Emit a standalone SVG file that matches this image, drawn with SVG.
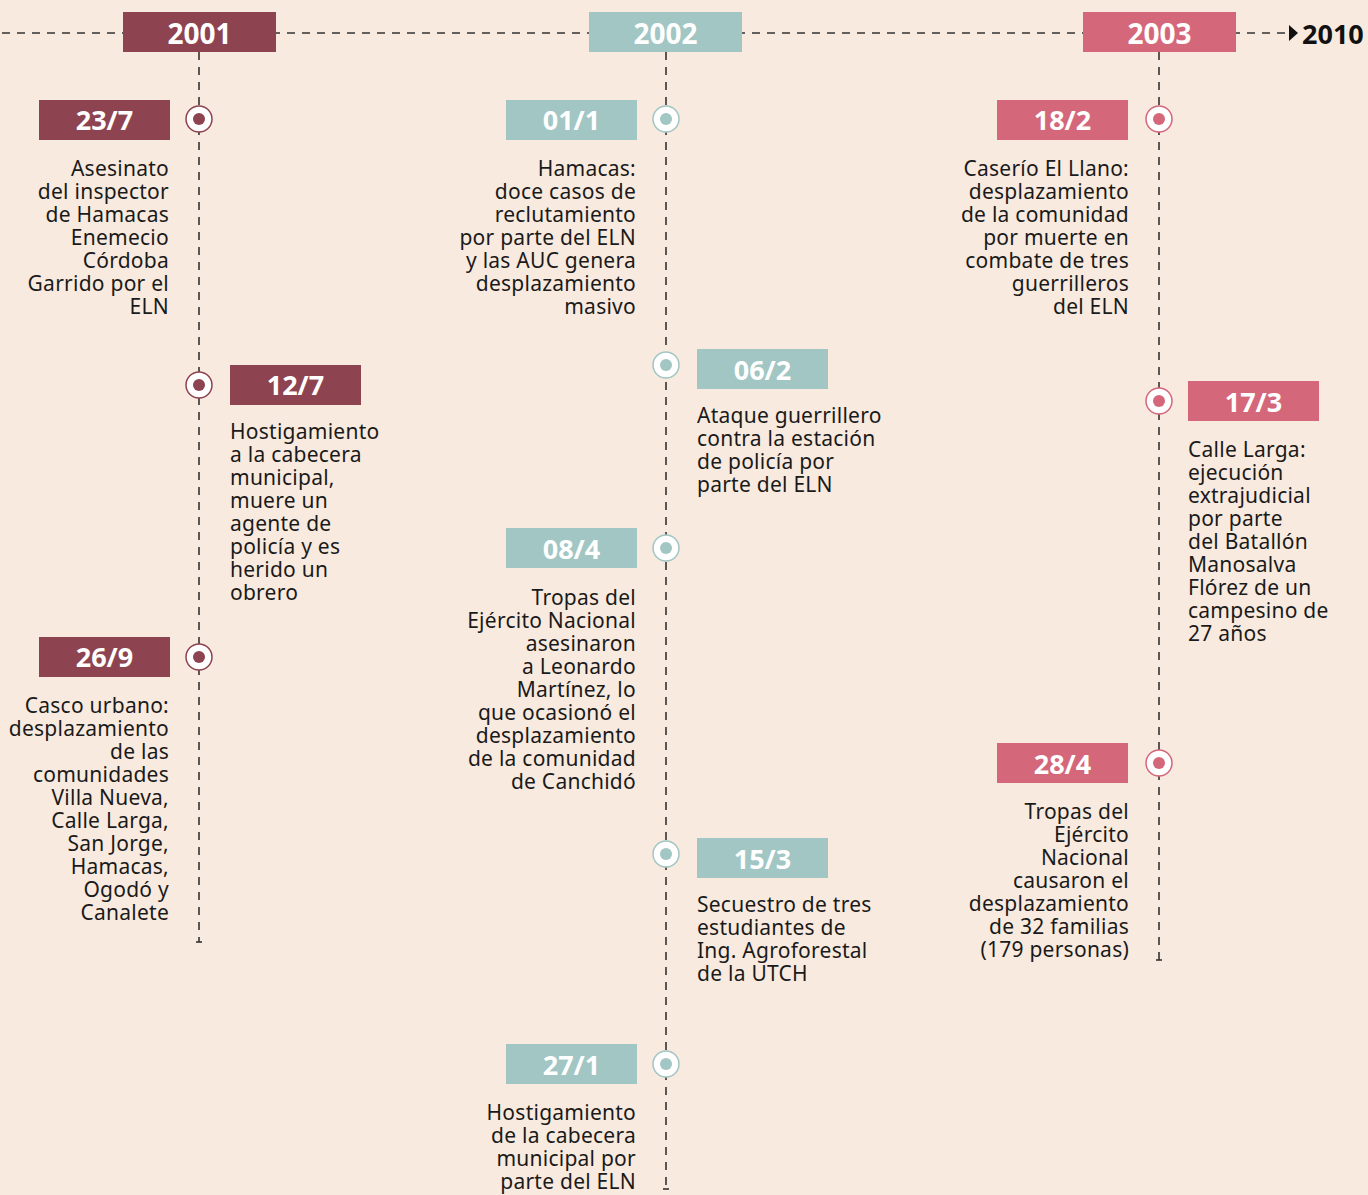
<svg xmlns="http://www.w3.org/2000/svg" width="1368" height="1195" viewBox="0 0 1368 1195">
  <defs>
    <style>
      .axis { stroke: #333; stroke-width: 1.6; stroke-dasharray: 8 7; fill: none; }
      .stem { stroke: #333; stroke-width: 1.6; stroke-dasharray: 8 7; fill: none; }
      .cap { stroke: #333; stroke-width: 1.6; }
      .year { font-family: "Noto Sans", "Open Sans", sans-serif; font-weight: 700; font-size: 28px; fill: #fff; text-anchor: middle; }
      .date { font-family: "Noto Sans", "Open Sans", sans-serif; font-weight: 700; font-size: 27px; fill: #fff; text-anchor: middle; }
      .desc { font-family: "Noto Sans", "Open Sans", sans-serif; font-size: 21px; letter-spacing: 0.25px; fill: #1a1a1a; }
      .r { text-anchor: end; }
      .l { text-anchor: start; }
      .c1 { fill: #8E4350; }
      .c2 { fill: #A1C6C3; }
      .c3 { fill: #D5677B; }
      .m1 { fill: #fff; stroke: #8E4350; stroke-width: 1.5; }
      .m2 { fill: #fff; stroke: #A1C6C3; stroke-width: 1.5; }
      .m3 { fill: #fff; stroke: #D5677B; stroke-width: 1.5; }
    </style>
  </defs>

  <rect width="1368" height="1195" fill="#F9EADF"/>

  <!-- timeline axis and column stems -->
  <g id="connectors">
    <line class="axis" x1="2" y1="33" x2="1290" y2="33"/>
    <polygon points="1289,25 1298,33 1289,41" fill="#111"/>
    <line class="stem" x1="199" y1="52" x2="199" y2="942"/>
    <line class="cap" x1="196" y1="942" x2="202" y2="942"/>
    <line class="stem" x1="666" y1="52" x2="666" y2="1189"/>
    <line class="cap" x1="663" y1="1189" x2="669" y2="1189"/>
    <line class="stem" x1="1159" y1="52" x2="1159" y2="960"/>
    <line class="cap" x1="1156" y1="960" x2="1162" y2="960"/>
  </g>

  <text x="1302" y="44" font-family="Noto Sans, Open Sans, sans-serif" font-weight="700" font-size="27" fill="#111">2010</text>

  <!-- year headers -->
  <g id="year-2001">
    <rect class="c1" x="123" y="12" width="153" height="40"/>
    <text class="year" x="199.5" y="44">2001</text>
  </g>
  <g id="year-2002">
    <rect class="c2" x="589" y="12" width="153" height="40"/>
    <text class="year" x="665.5" y="44">2002</text>
  </g>
  <g id="year-2003">
    <rect class="c3" x="1083" y="12" width="153" height="40"/>
    <text class="year" x="1159.5" y="44">2003</text>
  </g>

  <!-- 2001 events -->
  <g id="ev-2001-23-7">
    <rect class="c1" x="39" y="100" width="131" height="40"/>
    <text class="date" x="104.5" y="130">23/7</text>
    <circle class="m1" cx="199" cy="119" r="13"/>
    <circle class="c1" cx="199" cy="119" r="6"/>
    <text class="desc r" y="176"><tspan x="169">Asesinato</tspan><tspan x="169" dy="23">del inspector</tspan><tspan x="169" dy="23">de Hamacas</tspan><tspan x="169" dy="22.5">Enemecio</tspan><tspan x="169" dy="23">Córdoba</tspan><tspan x="169" dy="23">Garrido por el</tspan><tspan x="169" dy="23">ELN</tspan></text>
  </g>
  <g id="ev-2001-12-7">
    <rect class="c1" x="230" y="365" width="131" height="40"/>
    <text class="date" x="295.5" y="395">12/7</text>
    <circle class="m1" cx="199" cy="385" r="13"/>
    <circle class="c1" cx="199" cy="385" r="6"/>
    <text class="desc l" y="439"><tspan x="230">Hostigamiento</tspan><tspan x="230" dy="23">a la cabecera</tspan><tspan x="230" dy="23">municipal,</tspan><tspan x="230" dy="23">muere un</tspan><tspan x="230" dy="23">agente de</tspan><tspan x="230" dy="23">policía y es</tspan><tspan x="230" dy="23">herido un</tspan><tspan x="230" dy="23">obrero</tspan></text>
  </g>
  <g id="ev-2001-26-9">
    <rect class="c1" x="39" y="637" width="131" height="40"/>
    <text class="date" x="104.5" y="667">26/9</text>
    <circle class="m1" cx="199" cy="657" r="13"/>
    <circle class="c1" cx="199" cy="657" r="6"/>
    <text class="desc r" y="713"><tspan x="169">Casco urbano:</tspan><tspan x="169" dy="23">desplazamiento</tspan><tspan x="169" dy="23">de las</tspan><tspan x="169" dy="23">comunidades</tspan><tspan x="169" dy="23">Villa Nueva,</tspan><tspan x="169" dy="23">Calle Larga,</tspan><tspan x="169" dy="23">San Jorge,</tspan><tspan x="169" dy="23">Hamacas,</tspan><tspan x="169" dy="23">Ogodó y</tspan><tspan x="169" dy="23">Canalete</tspan></text>
  </g>

  <!-- 2002 events -->
  <g id="ev-2002-01-1">
    <rect class="c2" x="506" y="100" width="131" height="40"/>
    <text class="date" x="571.5" y="130">01/1</text>
    <circle class="m2" cx="666" cy="119" r="13"/>
    <circle class="c2" cx="666" cy="119" r="6"/>
    <text class="desc r" y="176"><tspan x="636">Hamacas:</tspan><tspan x="636" dy="23">doce casos de</tspan><tspan x="636" dy="23">reclutamiento</tspan><tspan x="636" dy="22.5">por parte del ELN</tspan><tspan x="636" dy="23">y las AUC genera</tspan><tspan x="636" dy="23">desplazamiento</tspan><tspan x="636" dy="23">masivo</tspan></text>
  </g>
  <g id="ev-2002-06-2">
    <rect class="c2" x="697" y="349" width="131" height="40"/>
    <text class="date" x="762.5" y="380">06/2</text>
    <circle class="m2" cx="666" cy="365" r="13"/>
    <circle class="c2" cx="666" cy="365" r="6"/>
    <text class="desc l" y="423"><tspan x="697">Ataque guerrillero</tspan><tspan x="697" dy="23">contra la estación</tspan><tspan x="697" dy="23">de policía por</tspan><tspan x="697" dy="23">parte del ELN</tspan></text>
  </g>
  <g id="ev-2002-08-4">
    <rect class="c2" x="506" y="528" width="131" height="40"/>
    <text class="date" x="571.5" y="559">08/4</text>
    <circle class="m2" cx="666" cy="548" r="13"/>
    <circle class="c2" cx="666" cy="548" r="6"/>
    <text class="desc r" y="605"><tspan x="636">Tropas del</tspan><tspan x="636" dy="23">Ejército Nacional</tspan><tspan x="636" dy="22.5">asesinaron</tspan><tspan x="636" dy="23">a Leonardo</tspan><tspan x="636" dy="23">Martínez, lo</tspan><tspan x="636" dy="23">que ocasionó el</tspan><tspan x="636" dy="23">desplazamiento</tspan><tspan x="636" dy="23">de la comunidad</tspan><tspan x="636" dy="23">de Canchidó</tspan></text>
  </g>
  <g id="ev-2002-15-3">
    <rect class="c2" x="697" y="838" width="131" height="40"/>
    <text class="date" x="762.5" y="869">15/3</text>
    <circle class="m2" cx="666" cy="854" r="13"/>
    <circle class="c2" cx="666" cy="854" r="6"/>
    <text class="desc l" y="912"><tspan x="697">Secuestro de tres</tspan><tspan x="697" dy="23">estudiantes de</tspan><tspan x="697" dy="23">Ing. Agroforestal</tspan><tspan x="697" dy="23">de la UTCH</tspan></text>
  </g>
  <g id="ev-2002-27-1">
    <rect class="c2" x="506" y="1044" width="131" height="40"/>
    <text class="date" x="571.5" y="1075">27/1</text>
    <circle class="m2" cx="666" cy="1064" r="13"/>
    <circle class="c2" cx="666" cy="1064" r="6"/>
    <text class="desc r" y="1120"><tspan x="636">Hostigamiento</tspan><tspan x="636" dy="23">de la cabecera</tspan><tspan x="636" dy="23">municipal por</tspan><tspan x="636" dy="23">parte del ELN</tspan></text>
  </g>

  <!-- 2003 events -->
  <g id="ev-2003-18-2">
    <rect class="c3" x="997" y="100" width="131" height="40"/>
    <text class="date" x="1062.5" y="130">18/2</text>
    <circle class="m3" cx="1159" cy="119" r="13"/>
    <circle class="c3" cx="1159" cy="119" r="6"/>
    <text class="desc r" y="176"><tspan x="1129">Caserío El Llano:</tspan><tspan x="1129" dy="23">desplazamiento</tspan><tspan x="1129" dy="23">de la comunidad</tspan><tspan x="1129" dy="22.5">por muerte en</tspan><tspan x="1129" dy="23">combate de tres</tspan><tspan x="1129" dy="23">guerrilleros</tspan><tspan x="1129" dy="23">del ELN</tspan></text>
  </g>
  <g id="ev-2003-17-3">
    <rect class="c3" x="1188" y="381" width="131" height="40"/>
    <text class="date" x="1253.5" y="412">17/3</text>
    <circle class="m3" cx="1159" cy="401" r="13"/>
    <circle class="c3" cx="1159" cy="401" r="6"/>
    <text class="desc l" y="457"><tspan x="1188">Calle Larga:</tspan><tspan x="1188" dy="23">ejecución</tspan><tspan x="1188" dy="22.5">extrajudicial</tspan><tspan x="1188" dy="23">por parte</tspan><tspan x="1188" dy="23">del Batallón</tspan><tspan x="1188" dy="23">Manosalva</tspan><tspan x="1188" dy="23">Flórez de un</tspan><tspan x="1188" dy="23">campesino de</tspan><tspan x="1188" dy="23">27 años</tspan></text>
  </g>
  <g id="ev-2003-28-4">
    <rect class="c3" x="997" y="743" width="131" height="40"/>
    <text class="date" x="1062.5" y="774">28/4</text>
    <circle class="m3" cx="1159" cy="763" r="13"/>
    <circle class="c3" cx="1159" cy="763" r="6"/>
    <text class="desc r" y="819"><tspan x="1129">Tropas del</tspan><tspan x="1129" dy="23">Ejército</tspan><tspan x="1129" dy="23">Nacional</tspan><tspan x="1129" dy="23">causaron el</tspan><tspan x="1129" dy="23">desplazamiento</tspan><tspan x="1129" dy="23">de 32 familias</tspan><tspan x="1129" dy="23">(179 personas)</tspan></text>
  </g>
</svg>
